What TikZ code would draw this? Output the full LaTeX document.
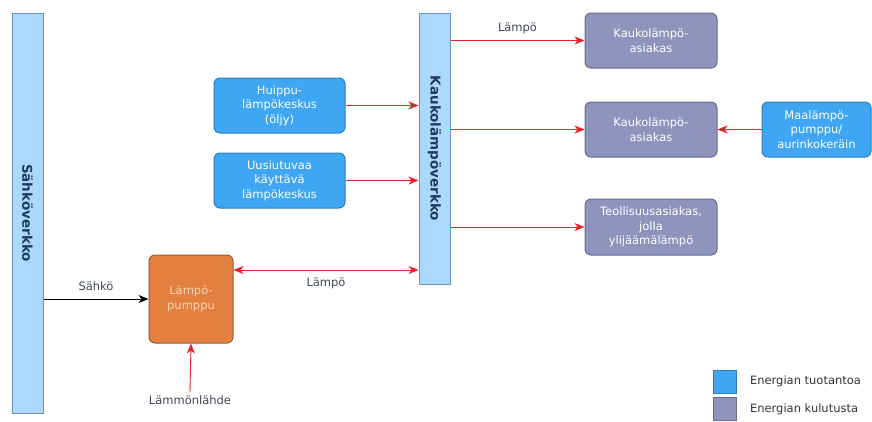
\documentclass[tikz,border=0pt]{standalone}
\usepackage{fontspec}
\setmainfont{DejaVu Sans}
\usetikzlibrary{arrows.meta,positioning}
\definecolor{barfill}{HTML}{ABD8FB}
\definecolor{barline}{HTML}{6F93B8}
\definecolor{prodfill}{HTML}{3EA6F2}
\definecolor{prodline}{HTML}{2C7DBD}
\definecolor{consfill}{HTML}{8E94BC}
\definecolor{consline}{HTML}{666D92}
\definecolor{pumpfill}{HTML}{E4803F}
\definecolor{pumpline}{HTML}{9C5B2E}
\definecolor{pumptext}{HTML}{F8D6BC}
\definecolor{heatred}{HTML}{E8212B}
\definecolor{bartext}{HTML}{1F3A5F}
\definecolor{labeltext}{HTML}{3E4756}
\tikzset{
  bar/.style={draw=barline, fill=barfill, line width=1pt, inner sep=0pt,
    font=\fontsize{13.5}{15}\selectfont\bfseries, text=bartext},
  unit/.style={draw, rounded corners=6pt, line width=1pt, inner sep=0pt,
    text=white, align=center, font=\fontsize{11.5}{14.5}\selectfont},
  prod/.style={unit, fill=prodfill, draw=prodline},
  cons/.style={unit, fill=consfill, draw=consline},
  tip/.style={Stealth[length=10pt,width=8pt,inset=3pt]},
  heat/.style={draw=heatred, line width=0.9pt, -{Stealth[length=10pt,width=8pt,inset=3pt]}},
  heatboth/.style={draw=heatred, line width=0.9pt,
    {Stealth[length=10pt,width=8pt,inset=3pt]}-{Stealth[length=10pt,width=8pt,inset=3pt]}},
  power/.style={draw=black, line width=0.9pt, -{Stealth[length=10pt,width=8pt,inset=3pt]}},
  flowlabel/.style={font=\fontsize{11.5}{13}\selectfont, text=labeltext}
}
\begin{document}
\begin{tikzpicture}[x=1pt,y=-1pt]
\useasboundingbox (0,0) rectangle (872,421);
\node[bar, minimum width=31pt, minimum height=400pt] (sahko) at (27.5,213) {\rotatebox{-90}{Sähköverkko}};
\node[bar, minimum width=31pt, minimum height=271pt] (kaukoverkko) at (434.5,148.5) {\rotatebox{-90}{Kaukolämpöverkko}};
\node[prod, minimum width=131pt, minimum height=55pt] (huippu) at (279.5,105.5) {Huippu-\\lämpökeskus\\(öljy)};
\node[prod, minimum width=131pt, minimum height=55pt] (uusiutuva) at (279.5,180.5) {Uusiutuvaa\\käyttävä\\lämpökeskus};
\node[cons, minimum width=132pt, minimum height=55pt] (asiakas1) at (651,40.5) {Kaukolämpö-\\asiakas};
\node[cons, minimum width=132pt, minimum height=55pt] (asiakas2) at (651,129.5) {Kaukolämpö-\\asiakas};
\node[cons, minimum width=132pt, minimum height=56pt] (teollisuus) at (651,227) {Teollisuusasiakas,\\jolla\\ylijäämälämpö};
\node[prod, minimum width=109pt, minimum height=55pt] (maalampo) at (816.5,129.5) {Maalämpö-\\pumppu/\\aurinkokeräin};
\node[unit, fill=pumpfill, draw=pumpline, text=pumptext, minimum width=84pt, minimum height=88pt] (pumppu) at (191,299) {Lämpö-\\pumppu};
\node[flowlabel] (lahde) at (190,400) {Lämmönlähde};

\draw[power] (sahko.east |- pumppu.west) -- (pumppu.west) node[midway, above=5pt, flowlabel] {Sähkö};
\draw[heat] (lahde.north) -- (pumppu.south);
\draw[heatboth] (pumppu.east |- 0,270) -- (kaukoverkko.west |- 0,270) node[midway, below=4pt, flowlabel] {Lämpö};
\draw[heat] (huippu.east) -- (kaukoverkko.west |- huippu.east);
\draw[heat] (uusiutuva.east) -- (kaukoverkko.west |- uusiutuva.east);
\draw[heat] (kaukoverkko.east |- asiakas1.west) -- (asiakas1.west) node[midway, above=3pt, flowlabel] {Lämpö};
\draw[heat] (kaukoverkko.east |- asiakas2.west) -- (asiakas2.west);
\draw[heat] (kaukoverkko.east |- teollisuus.west) -- (teollisuus.west);
\draw[heat] (maalampo.west) -- (asiakas2.east);

\node[prod, rounded corners=0pt, minimum size=23pt] (legprod) at (724.5,381.5) {};
\node[cons, rounded corners=0pt, minimum size=23pt] (legcons) at (724.5,409) {};
\node[flowlabel, text=black!80, right=10pt of legprod] (legprodtext) {Energian tuotantoa};
\node[flowlabel, text=black!80, right=10pt of legcons] (legconstext) {Energian kulutusta};
\end{tikzpicture}
\end{document}
